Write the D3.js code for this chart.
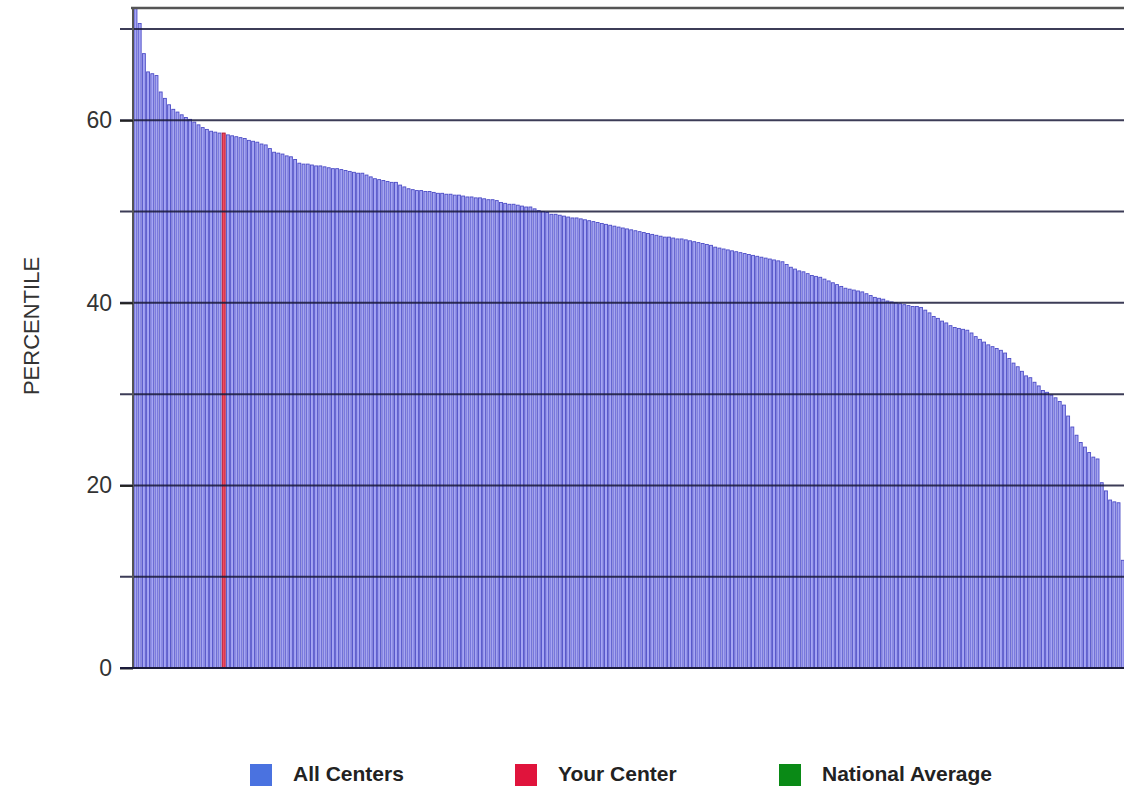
<!DOCTYPE html>
<html>
<head>
<meta charset="utf-8">
<script src="https://cdn.jsdelivr.net/npm/d3@7"></script>
<style>
  html, body { margin: 0; padding: 0; background: #fff; }
  svg { display: block; }
</style>
</head>
<body>
<svg id="chart" width="1124" height="786"></svg>
<script>
// ---- data ----
const percentiles = [
  72.3, 70.6, 67.3, 65.3, 65.1, 64.9, 63.1, 62.4, 61.7, 61.2,
  60.9, 60.6, 60.3, 60.1, 59.8, 59.5, 59.2, 59.0, 58.8, 58.7,
  58.6, 58.6, 58.4, 58.3, 58.2, 58.1, 58.0, 57.8, 57.7, 57.6,
  57.4, 57.3, 56.9, 56.5, 56.4, 56.3, 56.1, 56.0, 55.7, 55.3,
  55.2, 55.2, 55.1, 55.0, 55.0, 54.9, 54.8, 54.7, 54.7, 54.6,
  54.5, 54.4, 54.3, 54.2, 54.2, 54.0, 53.8, 53.6, 53.5, 53.4,
  53.3, 53.2, 53.2, 52.9, 52.7, 52.5, 52.4, 52.3, 52.3, 52.2,
  52.2, 52.1, 52.0, 52.0, 51.9, 51.9, 51.8, 51.8, 51.7, 51.6,
  51.6, 51.5, 51.5, 51.4, 51.3, 51.3, 51.2, 51.0, 50.9, 50.8,
  50.8, 50.7, 50.6, 50.5, 50.5, 50.3, 50.1, 50.0, 49.9, 49.7,
  49.7, 49.6, 49.5, 49.4, 49.3, 49.3, 49.2, 49.1, 49.0, 48.9,
  48.8, 48.7, 48.6, 48.5, 48.4, 48.3, 48.2, 48.1, 48.0, 47.9,
  47.8, 47.7, 47.6, 47.5, 47.4, 47.3, 47.2, 47.2, 47.1, 47.0,
  47.0, 46.9, 46.8, 46.7, 46.6, 46.5, 46.4, 46.3, 46.1, 46.0,
  45.9, 45.8, 45.7, 45.6, 45.5, 45.4, 45.3, 45.2, 45.1, 45.0,
  44.9, 44.8, 44.7, 44.6, 44.5, 44.2, 43.9, 43.7, 43.5, 43.4,
  43.2, 43.0, 42.9, 42.8, 42.6, 42.4, 42.2, 42.0, 41.8, 41.6,
  41.5, 41.4, 41.3, 41.2, 41.0, 40.8, 40.6, 40.5, 40.4, 40.2,
  40.1, 40.0, 39.9, 39.8, 39.7, 39.6, 39.6, 39.5, 39.2, 38.9,
  38.5, 38.3, 38.0, 37.8, 37.5, 37.3, 37.2, 37.1, 37.0, 36.7,
  36.3, 36.0, 35.7, 35.4, 35.2, 35.0, 34.8, 34.5, 33.9, 33.4,
  33.0, 32.5, 32.0, 31.8, 31.3, 30.9, 30.4, 30.2, 29.9, 29.6,
  29.2, 28.8, 27.6, 26.4, 25.5, 24.7, 24.2, 23.6, 23.1, 22.9,
  20.3, 19.4, 18.4, 18.2, 18.1, 11.8
];
const yourCenterIndex = 21;
const yMax = 72.3;
const gridValues = [10, 20, 30, 40, 50, 60, 70];
const tickLabels = [0, 20, 40, 60];
const yTitle = "PERCENTILE";
const legendItems = ["All Centers", "Your Center", "National Average"];
const legendColors = ["#4a72e0", "#e0143c", "#0a8a16"];

// ---- chart ----
const svg = d3.select("#chart");
const plotLeft = 133, plotRight = 1124.2, plotTop = 8, plotBottom = 668;

const x = d3.scaleBand()
  .domain(d3.range(percentiles.length))
  .range([plotLeft + 1, plotRight])
  .paddingInner(0.3).paddingOuter(0);

const y = d3.scaleLinear().domain([0, yMax]).range([plotBottom, plotTop]);

// bars
svg.append("g").selectAll("rect")
  .data(percentiles)
  .join("rect")
  .attr("x", (d, i) => x(i))
  .attr("y", d => y(Math.min(d, yMax)))
  .attr("width", x.bandwidth())
  .attr("height", d => y(0) - y(Math.min(d, yMax)))
  .attr("fill", (d, i) => i === yourCenterIndex ? "#ee4a62" : "#a6a6f4")
  .attr("stroke", (d, i) => i === yourCenterIndex ? "#b0102c" : "#4c4cc6")
  .attr("stroke-width", 0.9);

// gridlines (drawn over bars)
svg.append("g").selectAll("line")
  .data(gridValues)
  .join("line")
  .attr("x1", 120).attr("x2", 1124)
  .attr("y1", d => y(d)).attr("y2", d => y(d))
  .attr("stroke", "#1a1a3a").attr("stroke-opacity", 0.85)
  .attr("stroke-width", 2);

// top frame line
svg.append("line")
  .attr("x1", plotLeft - 2).attr("x2", 1124)
  .attr("y1", y(yMax)).attr("y2", y(yMax))
  .attr("stroke", "#555").attr("stroke-width", 2.5);

// left axis line
svg.append("line")
  .attr("x1", plotLeft).attr("x2", plotLeft)
  .attr("y1", y(yMax)).attr("y2", y(0))
  .attr("stroke", "#555").attr("stroke-width", 2);

// y axis with labels
const yAxis = d3.axisLeft(y).tickValues(tickLabels).tickSize(13).tickPadding(8);
const ga = svg.append("g").attr("transform", `translate(${plotLeft},0)`).call(yAxis);
ga.select(".domain").remove();
ga.selectAll(".tick line").attr("stroke", "#222").attr("stroke-width", 2);
ga.selectAll(".tick text")
  .attr("font-family", "Liberation Sans, Arial, sans-serif")
  .attr("font-size", 23).attr("fill", "#333");

// baseline
svg.append("line")
  .attr("x1", 120).attr("x2", 1124)
  .attr("y1", y(0)).attr("y2", y(0))
  .attr("stroke", "#1a1a3a").attr("stroke-width", 2);

// y title
svg.append("text")
  .attr("transform", `translate(39,326) rotate(-90)`)
  .attr("text-anchor", "middle")
  .attr("font-family", "Liberation Sans, Arial, sans-serif")
  .attr("font-size", 22).attr("fill", "#333")
  .text(yTitle);

// legend
const legendX = [250, 515, 779];
const lg = svg.append("g");
legendItems.forEach((name, i) => {
  lg.append("rect")
    .attr("x", legendX[i]).attr("y", 764)
    .attr("width", 22).attr("height", 22)
    .attr("fill", legendColors[i]);
  lg.append("text")
    .attr("x", legendX[i] + 43).attr("y", 781)
    .attr("font-family", "Liberation Sans, Arial, sans-serif")
    .attr("font-weight", "bold")
    .attr("font-size", 21).attr("fill", "#222")
    .text(name);
});
</script>
</body>
</html>
